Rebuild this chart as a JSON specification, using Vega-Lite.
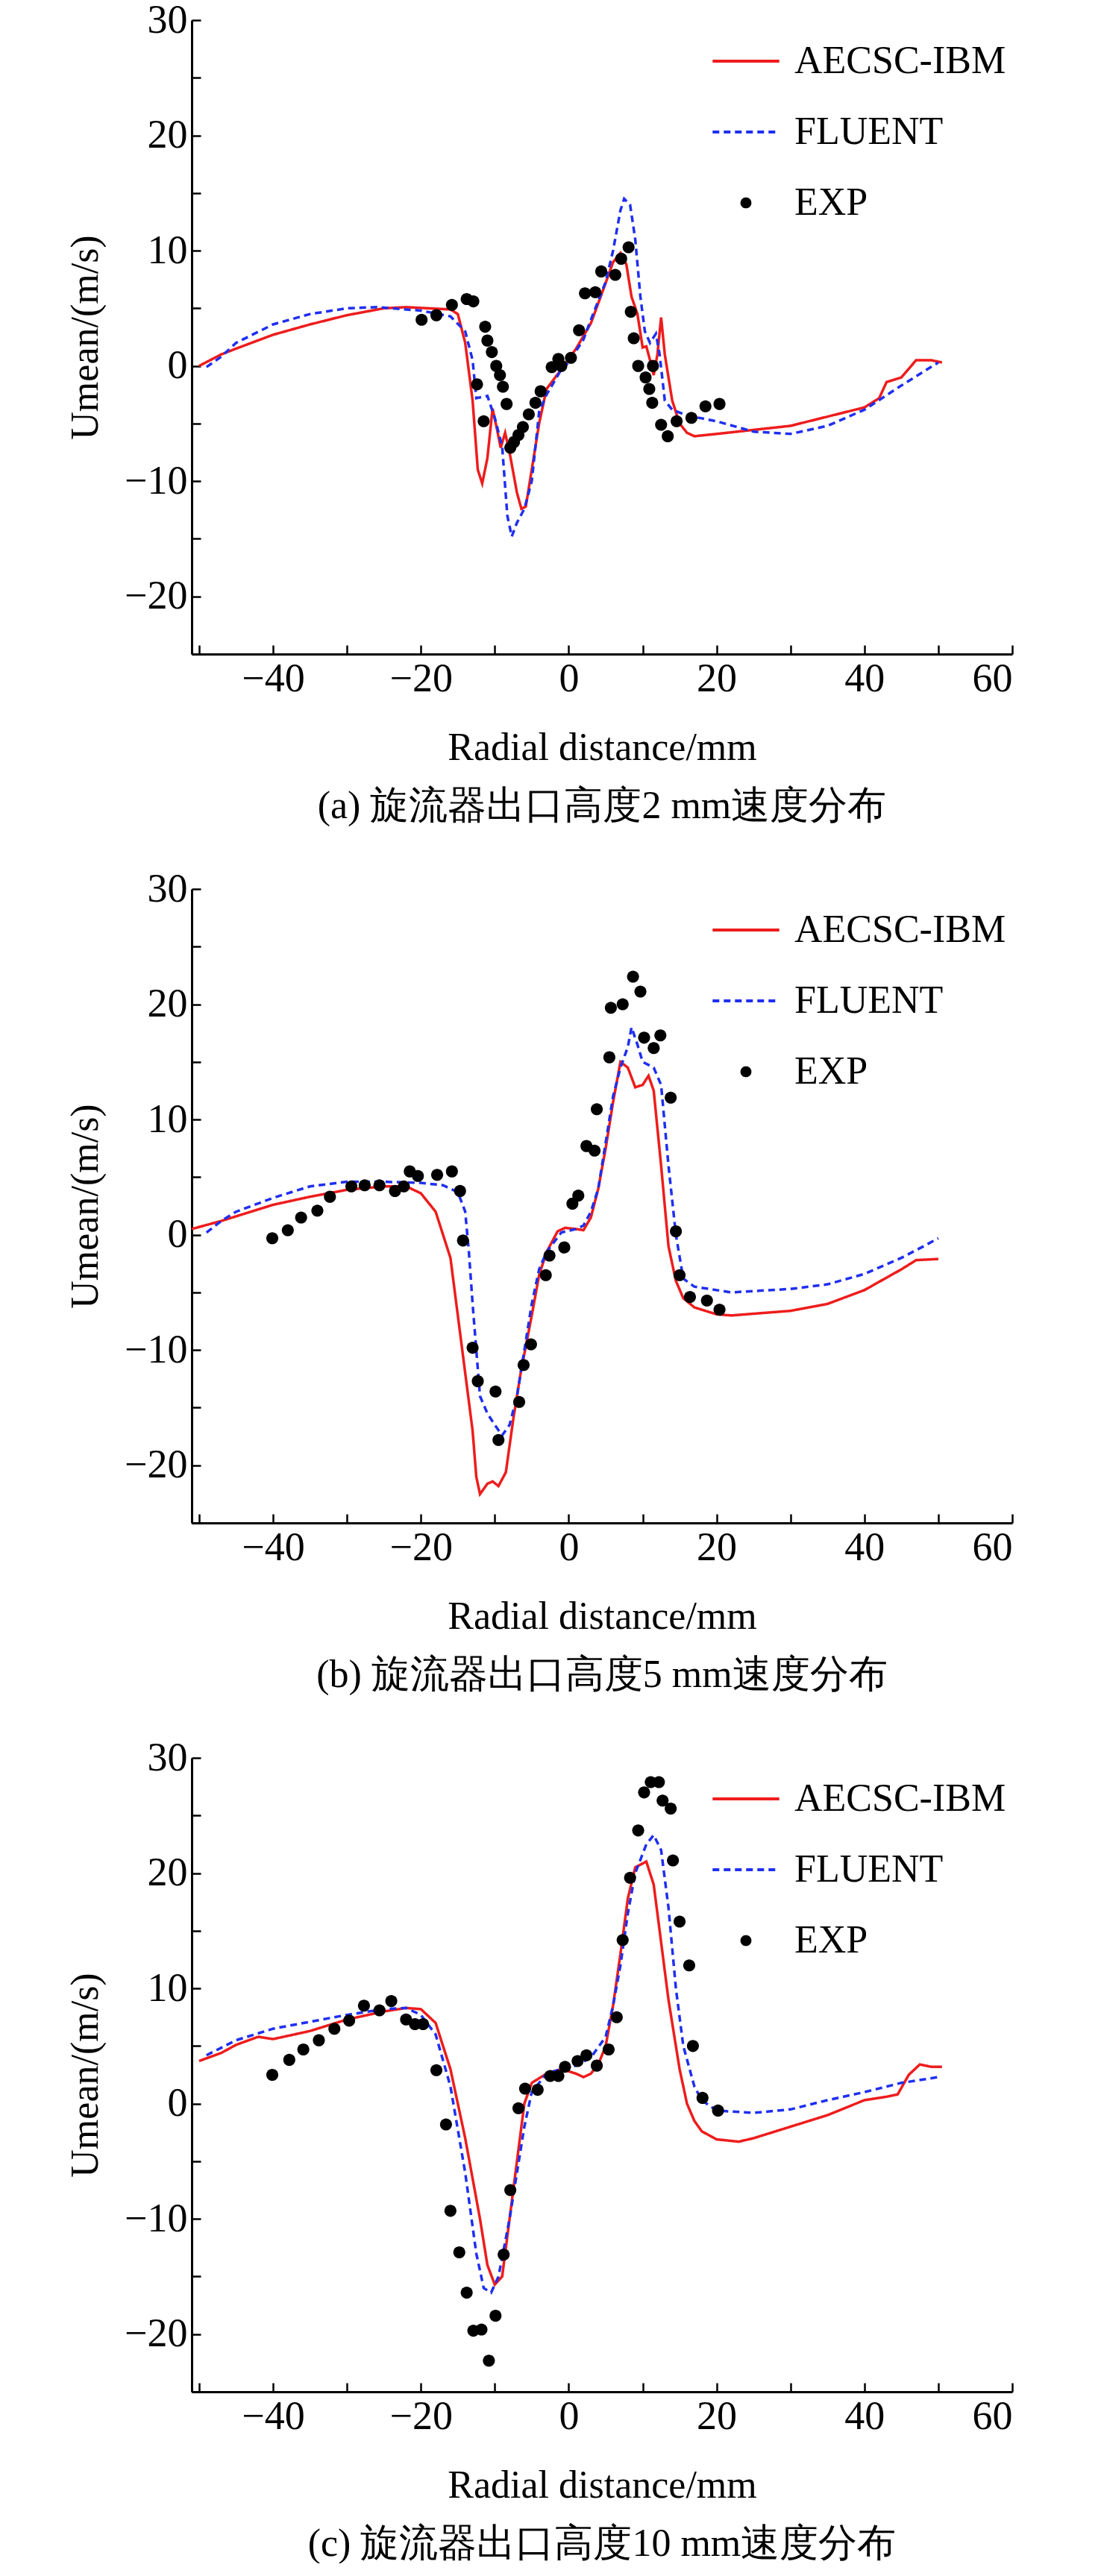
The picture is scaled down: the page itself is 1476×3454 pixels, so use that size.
{
"$schema":"https://vega.github.io/schema/vega-lite/v6.json",
"padding":{"left":88,"top":0,"right":5,"bottom":0},
"background":"white",
"config":{"font":"Liberation Serif","view":{"stroke":null},
"axis":{"labelFont":"Liberation Serif","titleFont":"Liberation Serif","labelFontSize":54,"titleFontSize":52,"titleFontWeight":"normal","labelColor":"black","titleColor":"black","domainColor":"black","tickColor":"black","domainWidth":3,"tickWidth":2.5,"tickSize":-12,"grid":false,"labelPadding":18},
"legend":{"labelFont":"Liberation Serif","labelFontSize":52,"labelColor":"black","labelLimit":0,"symbolSize":8000,"symbolStrokeWidth":4,"rowPadding":22,"labelOffset":18,"offset":8,"padding":0},
"title":{"font":"Liberation Serif","fontSize":52,"fontWeight":"normal","color":"black","orient":"bottom","offset":28},
"concat":{"spacing":58}},
"datasets":{
"a":[
{"s":"AECSC-IBM","x":-50,"y":0},{"s":"AECSC-IBM","x":-47,"y":1},{"s":"AECSC-IBM","x":-45,"y":1.5},{"s":"AECSC-IBM","x":-40,"y":2.7},{"s":"AECSC-IBM","x":-35,"y":3.6},{"s":"AECSC-IBM","x":-30,"y":4.4},{"s":"AECSC-IBM","x":-25,"y":5},{"s":"AECSC-IBM","x":-22,"y":5.1},{"s":"AECSC-IBM","x":-16,"y":4.9},{"s":"AECSC-IBM","x":-15,"y":4.5},{"s":"AECSC-IBM","x":-14,"y":2},{"s":"AECSC-IBM","x":-13,"y":-3},{"s":"AECSC-IBM","x":-12.3,"y":-9},{"s":"AECSC-IBM","x":-11.7,"y":-10.2},{"s":"AECSC-IBM","x":-11,"y":-8},{"s":"AECSC-IBM","x":-10.3,"y":-3.7},{"s":"AECSC-IBM","x":-9.7,"y":-5.5},{"s":"AECSC-IBM","x":-9.2,"y":-7.1},{"s":"AECSC-IBM","x":-8.6,"y":-5.8},{"s":"AECSC-IBM","x":-8,"y":-7.5},{"s":"AECSC-IBM","x":-7,"y":-11},{"s":"AECSC-IBM","x":-6.4,"y":-12.4},{"s":"AECSC-IBM","x":-5.8,"y":-12.2},{"s":"AECSC-IBM","x":-5,"y":-9},{"s":"AECSC-IBM","x":-4,"y":-5},{"s":"AECSC-IBM","x":-3,"y":-2},{"s":"AECSC-IBM","x":-1,"y":-0.3},{"s":"AECSC-IBM","x":0,"y":0.6},{"s":"AECSC-IBM","x":1,"y":1.5},{"s":"AECSC-IBM","x":3,"y":3.7},{"s":"AECSC-IBM","x":5,"y":7.2},{"s":"AECSC-IBM","x":6,"y":9},{"s":"AECSC-IBM","x":7,"y":9.8},{"s":"AECSC-IBM","x":7.8,"y":8.8},{"s":"AECSC-IBM","x":8.5,"y":6},{"s":"AECSC-IBM","x":9.3,"y":4.5},{"s":"AECSC-IBM","x":10,"y":1.6},{"s":"AECSC-IBM","x":10.5,"y":1.7},{"s":"AECSC-IBM","x":11,"y":0.5},{"s":"AECSC-IBM","x":11.5,"y":-0.8},{"s":"AECSC-IBM","x":12,"y":1},{"s":"AECSC-IBM","x":12.5,"y":4.2},{"s":"AECSC-IBM","x":13,"y":1},{"s":"AECSC-IBM","x":14,"y":-3},{"s":"AECSC-IBM","x":15,"y":-5},{"s":"AECSC-IBM","x":16,"y":-5.8},{"s":"AECSC-IBM","x":17,"y":-6.1},{"s":"AECSC-IBM","x":20,"y":-5.9},{"s":"AECSC-IBM","x":30,"y":-5.2},{"s":"AECSC-IBM","x":40,"y":-3.6},{"s":"AECSC-IBM","x":42,"y":-2.8},{"s":"AECSC-IBM","x":43,"y":-1.4},{"s":"AECSC-IBM","x":45,"y":-1},{"s":"AECSC-IBM","x":47,"y":0.5},{"s":"AECSC-IBM","x":49,"y":0.5},{"s":"AECSC-IBM","x":50.5,"y":0.3},
{"s":"FLUENT","x":-49,"y":-0.1},{"s":"FLUENT","x":-47,"y":0.8},{"s":"FLUENT","x":-45,"y":2},{"s":"FLUENT","x":-40,"y":3.6},{"s":"FLUENT","x":-35,"y":4.5},{"s":"FLUENT","x":-30,"y":5},{"s":"FLUENT","x":-26,"y":5.1},{"s":"FLUENT","x":-20,"y":4.8},{"s":"FLUENT","x":-16,"y":4.3},{"s":"FLUENT","x":-14,"y":3},{"s":"FLUENT","x":-13,"y":0.5},{"s":"FLUENT","x":-12.5,"y":-2.8},{"s":"FLUENT","x":-11,"y":-2.6},{"s":"FLUENT","x":-10,"y":-4.5},{"s":"FLUENT","x":-9,"y":-7},{"s":"FLUENT","x":-8.3,"y":-13},{"s":"FLUENT","x":-7.7,"y":-14.8},{"s":"FLUENT","x":-7,"y":-13.6},{"s":"FLUENT","x":-6,"y":-12.4},{"s":"FLUENT","x":-5,"y":-10},{"s":"FLUENT","x":-4,"y":-4},{"s":"FLUENT","x":-3,"y":-2.5},{"s":"FLUENT","x":-1,"y":-0.3},{"s":"FLUENT","x":0,"y":0.3},{"s":"FLUENT","x":2,"y":2.3},{"s":"FLUENT","x":3,"y":4},{"s":"FLUENT","x":5,"y":7.3},{"s":"FLUENT","x":6,"y":10},{"s":"FLUENT","x":7,"y":13.5},{"s":"FLUENT","x":7.5,"y":14.5},{"s":"FLUENT","x":8.3,"y":14},{"s":"FLUENT","x":9,"y":11},{"s":"FLUENT","x":9.7,"y":6},{"s":"FLUENT","x":10.3,"y":3},{"s":"FLUENT","x":11,"y":2},{"s":"FLUENT","x":11.8,"y":2.8},{"s":"FLUENT","x":12.3,"y":1},{"s":"FLUENT","x":13,"y":-3},{"s":"FLUENT","x":14,"y":-3.8},{"s":"FLUENT","x":16,"y":-4.3},{"s":"FLUENT","x":20,"y":-4.8},{"s":"FLUENT","x":25,"y":-5.7},{"s":"FLUENT","x":30,"y":-5.9},{"s":"FLUENT","x":35,"y":-5.2},{"s":"FLUENT","x":40,"y":-3.8},{"s":"FLUENT","x":45,"y":-1.7},{"s":"FLUENT","x":50,"y":0.3},
{"s":"EXP","x":-19.9,"y":4.0},{"s":"EXP","x":-17.9,"y":4.4},{"s":"EXP","x":-15.8,"y":5.3},{"s":"EXP","x":-13.8,"y":5.8},{"s":"EXP","x":-12.9,"y":5.6},{"s":"EXP","x":-12.4,"y":-1.6},{"s":"EXP","x":-11.5,"y":-4.8},{"s":"EXP","x":-11.3,"y":3.4},{"s":"EXP","x":-11,"y":2.2},{"s":"EXP","x":-10.4,"y":1.2},{"s":"EXP","x":-9.8,"y":0},{"s":"EXP","x":-9.3,"y":-0.8},{"s":"EXP","x":-8.9,"y":-1.8},{"s":"EXP","x":-8.4,"y":-3.3},{"s":"EXP","x":-7.9,"y":-7.1},{"s":"EXP","x":-7.4,"y":-6.6},{"s":"EXP","x":-6.8,"y":-6},{"s":"EXP","x":-6.2,"y":-5.3},{"s":"EXP","x":-5.4,"y":-4.2},{"s":"EXP","x":-4.5,"y":-3.2},{"s":"EXP","x":-3.8,"y":-2.2},{"s":"EXP","x":-2.3,"y":-0.1},{"s":"EXP","x":-1.4,"y":0.6},{"s":"EXP","x":-1,"y":0},{"s":"EXP","x":0.3,"y":0.7},{"s":"EXP","x":1.4,"y":3.1},{"s":"EXP","x":2.2,"y":6.3},{"s":"EXP","x":3.6,"y":6.4},{"s":"EXP","x":4.4,"y":8.2},{"s":"EXP","x":6.3,"y":7.9},{"s":"EXP","x":7.1,"y":9.3},{"s":"EXP","x":8.1,"y":10.3},{"s":"EXP","x":8.4,"y":4.7},{"s":"EXP","x":8.8,"y":2.4},{"s":"EXP","x":9.4,"y":0},{"s":"EXP","x":10.4,"y":-1},{"s":"EXP","x":10.9,"y":-2},{"s":"EXP","x":11.3,"y":-3.2},{"s":"EXP","x":11.4,"y":0},{"s":"EXP","x":12.5,"y":-5.1},{"s":"EXP","x":13.4,"y":-6.1},{"s":"EXP","x":14.6,"y":-4.8},{"s":"EXP","x":16.6,"y":-4.5},{"s":"EXP","x":18.5,"y":-3.5},{"s":"EXP","x":20.4,"y":-3.3}],
"b":[
{"s":"AECSC-IBM","x":-51,"y":0.5},{"s":"AECSC-IBM","x":-47,"y":1.2},{"s":"AECSC-IBM","x":-45,"y":1.6},{"s":"AECSC-IBM","x":-40,"y":2.6},{"s":"AECSC-IBM","x":-35,"y":3.3},{"s":"AECSC-IBM","x":-30,"y":3.9},{"s":"AECSC-IBM","x":-25,"y":4.2},{"s":"AECSC-IBM","x":-22,"y":4.2},{"s":"AECSC-IBM","x":-20,"y":3.6},{"s":"AECSC-IBM","x":-18,"y":2},{"s":"AECSC-IBM","x":-16,"y":-2},{"s":"AECSC-IBM","x":-15,"y":-7},{"s":"AECSC-IBM","x":-14,"y":-12},{"s":"AECSC-IBM","x":-13,"y":-17},{"s":"AECSC-IBM","x":-12.5,"y":-21},{"s":"AECSC-IBM","x":-12,"y":-22.5},{"s":"AECSC-IBM","x":-11,"y":-21.6},{"s":"AECSC-IBM","x":-10.3,"y":-21.4},{"s":"AECSC-IBM","x":-9.5,"y":-21.8},{"s":"AECSC-IBM","x":-8.5,"y":-20.6},{"s":"AECSC-IBM","x":-7.5,"y":-16},{"s":"AECSC-IBM","x":-6.5,"y":-12},{"s":"AECSC-IBM","x":-5,"y":-7},{"s":"AECSC-IBM","x":-4,"y":-3.5},{"s":"AECSC-IBM","x":-3,"y":-1.5},{"s":"AECSC-IBM","x":-1.5,"y":0.3},{"s":"AECSC-IBM","x":-0.5,"y":0.6},{"s":"AECSC-IBM","x":1,"y":0.5},{"s":"AECSC-IBM","x":2,"y":0.4},{"s":"AECSC-IBM","x":3,"y":1.5},{"s":"AECSC-IBM","x":4,"y":4},{"s":"AECSC-IBM","x":5,"y":7.5},{"s":"AECSC-IBM","x":6,"y":11.5},{"s":"AECSC-IBM","x":7,"y":15},{"s":"AECSC-IBM","x":8,"y":14.5},{"s":"AECSC-IBM","x":9,"y":12.8},{"s":"AECSC-IBM","x":10,"y":13},{"s":"AECSC-IBM","x":10.8,"y":13.8},{"s":"AECSC-IBM","x":11.5,"y":12.5},{"s":"AECSC-IBM","x":12.5,"y":6},{"s":"AECSC-IBM","x":13.5,"y":-1},{"s":"AECSC-IBM","x":14.5,"y":-4},{"s":"AECSC-IBM","x":15.5,"y":-5.5},{"s":"AECSC-IBM","x":17,"y":-6.3},{"s":"AECSC-IBM","x":20,"y":-6.9},{"s":"AECSC-IBM","x":22,"y":-7},{"s":"AECSC-IBM","x":30,"y":-6.6},{"s":"AECSC-IBM","x":35,"y":-6},{"s":"AECSC-IBM","x":40,"y":-4.8},{"s":"AECSC-IBM","x":45,"y":-3},{"s":"AECSC-IBM","x":47,"y":-2.2},{"s":"AECSC-IBM","x":50,"y":-2.1},
{"s":"FLUENT","x":-49,"y":0.2},{"s":"FLUENT","x":-47,"y":1.2},{"s":"FLUENT","x":-45,"y":2},{"s":"FLUENT","x":-40,"y":3.2},{"s":"FLUENT","x":-35,"y":4.2},{"s":"FLUENT","x":-30,"y":4.6},{"s":"FLUENT","x":-25,"y":4.6},{"s":"FLUENT","x":-20,"y":4.5},{"s":"FLUENT","x":-17,"y":4.3},{"s":"FLUENT","x":-15,"y":3.7},{"s":"FLUENT","x":-14,"y":2},{"s":"FLUENT","x":-13.5,"y":-1.5},{"s":"FLUENT","x":-13,"y":-6},{"s":"FLUENT","x":-12.5,"y":-10},{"s":"FLUENT","x":-12,"y":-14},{"s":"FLUENT","x":-11,"y":-15.5},{"s":"FLUENT","x":-10,"y":-16.5},{"s":"FLUENT","x":-9,"y":-17.4},{"s":"FLUENT","x":-8,"y":-16.5},{"s":"FLUENT","x":-7,"y":-14},{"s":"FLUENT","x":-6,"y":-10},{"s":"FLUENT","x":-5,"y":-6},{"s":"FLUENT","x":-4,"y":-3},{"s":"FLUENT","x":-3,"y":-1.5},{"s":"FLUENT","x":-1,"y":0.2},{"s":"FLUENT","x":1,"y":0.5},{"s":"FLUENT","x":2,"y":0.8},{"s":"FLUENT","x":3,"y":2},{"s":"FLUENT","x":4,"y":4},{"s":"FLUENT","x":5,"y":8},{"s":"FLUENT","x":6,"y":12},{"s":"FLUENT","x":7,"y":14.5},{"s":"FLUENT","x":8,"y":16.3},{"s":"FLUENT","x":8.5,"y":18},{"s":"FLUENT","x":9.3,"y":16.5},{"s":"FLUENT","x":10,"y":15},{"s":"FLUENT","x":11.5,"y":14.5},{"s":"FLUENT","x":12.5,"y":13},{"s":"FLUENT","x":13.5,"y":6},{"s":"FLUENT","x":14.5,"y":0},{"s":"FLUENT","x":15.5,"y":-3.8},{"s":"FLUENT","x":17,"y":-4.5},{"s":"FLUENT","x":22,"y":-5},{"s":"FLUENT","x":30,"y":-4.7},{"s":"FLUENT","x":35,"y":-4.3},{"s":"FLUENT","x":40,"y":-3.4},{"s":"FLUENT","x":45,"y":-2},{"s":"FLUENT","x":48,"y":-1},{"s":"FLUENT","x":50,"y":-0.3},
{"s":"EXP","x":-40.1,"y":-0.3},{"s":"EXP","x":-38,"y":0.4},{"s":"EXP","x":-36.2,"y":1.5},{"s":"EXP","x":-34,"y":2.1},{"s":"EXP","x":-32.3,"y":3.3},{"s":"EXP","x":-29.4,"y":4.2},{"s":"EXP","x":-27.6,"y":4.3},{"s":"EXP","x":-25.6,"y":4.3},{"s":"EXP","x":-23.5,"y":3.8},{"s":"EXP","x":-22.3,"y":4.2},{"s":"EXP","x":-21.5,"y":5.5},{"s":"EXP","x":-20.4,"y":5.1},{"s":"EXP","x":-17.8,"y":5.2},{"s":"EXP","x":-15.8,"y":5.5},{"s":"EXP","x":-14.7,"y":3.8},{"s":"EXP","x":-14.3,"y":-0.5},{"s":"EXP","x":-13,"y":-9.8},{"s":"EXP","x":-12.3,"y":-12.7},{"s":"EXP","x":-9.9,"y":-13.6},{"s":"EXP","x":-9.5,"y":-17.8},{"s":"EXP","x":-6.7,"y":-14.5},{"s":"EXP","x":-6.1,"y":-11.3},{"s":"EXP","x":-5.1,"y":-9.5},{"s":"EXP","x":-3.1,"y":-3.5},{"s":"EXP","x":-2.6,"y":-1.8},{"s":"EXP","x":-0.6,"y":-1.1},{"s":"EXP","x":0.5,"y":2.7},{"s":"EXP","x":1.3,"y":3.4},{"s":"EXP","x":2.4,"y":7.7},{"s":"EXP","x":3.5,"y":7.3},{"s":"EXP","x":3.8,"y":10.9},{"s":"EXP","x":5.5,"y":15.4},{"s":"EXP","x":5.7,"y":19.7},{"s":"EXP","x":7.3,"y":20},{"s":"EXP","x":8.7,"y":22.4},{"s":"EXP","x":9.7,"y":21.1},{"s":"EXP","x":10.2,"y":17.1},{"s":"EXP","x":11.5,"y":16.2},{"s":"EXP","x":12.4,"y":17.3},{"s":"EXP","x":13.8,"y":11.9},{"s":"EXP","x":14.5,"y":0.3},{"s":"EXP","x":15,"y":-3.5},{"s":"EXP","x":16.4,"y":-5.4},{"s":"EXP","x":18.7,"y":-5.7},{"s":"EXP","x":20.4,"y":-6.5}],
"c":[
{"s":"AECSC-IBM","x":-50,"y":3.7},{"s":"AECSC-IBM","x":-47,"y":4.4},{"s":"AECSC-IBM","x":-45,"y":5.1},{"s":"AECSC-IBM","x":-42,"y":5.8},{"s":"AECSC-IBM","x":-40,"y":5.6},{"s":"AECSC-IBM","x":-35,"y":6.3},{"s":"AECSC-IBM","x":-30,"y":7.3},{"s":"AECSC-IBM","x":-25,"y":8},{"s":"AECSC-IBM","x":-22,"y":8.3},{"s":"AECSC-IBM","x":-20,"y":8.2},{"s":"AECSC-IBM","x":-18,"y":7},{"s":"AECSC-IBM","x":-16,"y":3},{"s":"AECSC-IBM","x":-14,"y":-3},{"s":"AECSC-IBM","x":-12,"y":-10},{"s":"AECSC-IBM","x":-11,"y":-14},{"s":"AECSC-IBM","x":-10,"y":-15.7},{"s":"AECSC-IBM","x":-9,"y":-15},{"s":"AECSC-IBM","x":-8,"y":-10},{"s":"AECSC-IBM","x":-7,"y":-5},{"s":"AECSC-IBM","x":-6,"y":0},{"s":"AECSC-IBM","x":-5,"y":1.8},{"s":"AECSC-IBM","x":-3,"y":2.6},{"s":"AECSC-IBM","x":-1,"y":3},{"s":"AECSC-IBM","x":1,"y":2.6},{"s":"AECSC-IBM","x":2,"y":2.3},{"s":"AECSC-IBM","x":3,"y":2.6},{"s":"AECSC-IBM","x":4,"y":3.4},{"s":"AECSC-IBM","x":5,"y":5},{"s":"AECSC-IBM","x":6,"y":8.5},{"s":"AECSC-IBM","x":7,"y":13},{"s":"AECSC-IBM","x":8,"y":17.8},{"s":"AECSC-IBM","x":9,"y":20.5},{"s":"AECSC-IBM","x":10.5,"y":21},{"s":"AECSC-IBM","x":11.5,"y":19},{"s":"AECSC-IBM","x":12.5,"y":14},{"s":"AECSC-IBM","x":13.5,"y":9},{"s":"AECSC-IBM","x":15,"y":3},{"s":"AECSC-IBM","x":16,"y":0},{"s":"AECSC-IBM","x":17,"y":-1.5},{"s":"AECSC-IBM","x":18,"y":-2.4},{"s":"AECSC-IBM","x":20,"y":-3.1},{"s":"AECSC-IBM","x":23,"y":-3.3},{"s":"AECSC-IBM","x":25,"y":-3},{"s":"AECSC-IBM","x":30,"y":-2},{"s":"AECSC-IBM","x":35,"y":-1},{"s":"AECSC-IBM","x":40,"y":0.3},{"s":"AECSC-IBM","x":43,"y":0.6},{"s":"AECSC-IBM","x":44.5,"y":0.8},{"s":"AECSC-IBM","x":46,"y":2.5},{"s":"AECSC-IBM","x":47.5,"y":3.4},{"s":"AECSC-IBM","x":49,"y":3.2},{"s":"AECSC-IBM","x":50.5,"y":3.2},
{"s":"FLUENT","x":-49,"y":4.2},{"s":"FLUENT","x":-45,"y":5.5},{"s":"FLUENT","x":-40,"y":6.5},{"s":"FLUENT","x":-35,"y":7.1},{"s":"FLUENT","x":-30,"y":7.7},{"s":"FLUENT","x":-25,"y":8.2},{"s":"FLUENT","x":-22,"y":8.3},{"s":"FLUENT","x":-20,"y":7.7},{"s":"FLUENT","x":-18,"y":6},{"s":"FLUENT","x":-16,"y":1.5},{"s":"FLUENT","x":-14,"y":-6},{"s":"FLUENT","x":-12.5,"y":-13},{"s":"FLUENT","x":-11.5,"y":-16},{"s":"FLUENT","x":-10.5,"y":-16.4},{"s":"FLUENT","x":-9.5,"y":-15},{"s":"FLUENT","x":-8,"y":-10},{"s":"FLUENT","x":-6,"y":-2},{"s":"FLUENT","x":-5,"y":1},{"s":"FLUENT","x":-3,"y":2.6},{"s":"FLUENT","x":-1,"y":3},{"s":"FLUENT","x":1,"y":3.3},{"s":"FLUENT","x":3,"y":4},{"s":"FLUENT","x":5,"y":5.8},{"s":"FLUENT","x":6,"y":8.5},{"s":"FLUENT","x":7,"y":12},{"s":"FLUENT","x":8,"y":16.5},{"s":"FLUENT","x":9,"y":20},{"s":"FLUENT","x":10.5,"y":22.5},{"s":"FLUENT","x":11.5,"y":23.3},{"s":"FLUENT","x":12.5,"y":22},{"s":"FLUENT","x":13.5,"y":17},{"s":"FLUENT","x":14.5,"y":10},{"s":"FLUENT","x":15.5,"y":5},{"s":"FLUENT","x":17,"y":1.5},{"s":"FLUENT","x":18,"y":0.3},{"s":"FLUENT","x":20,"y":-0.6},{"s":"FLUENT","x":25,"y":-0.8},{"s":"FLUENT","x":30,"y":-0.5},{"s":"FLUENT","x":35,"y":0.3},{"s":"FLUENT","x":40,"y":1},{"s":"FLUENT","x":45,"y":1.8},{"s":"FLUENT","x":50,"y":2.3},
{"s":"EXP","x":-40.1,"y":2.5},{"s":"EXP","x":-37.8,"y":3.8},{"s":"EXP","x":-35.9,"y":4.7},{"s":"EXP","x":-33.8,"y":5.5},{"s":"EXP","x":-31.7,"y":6.5},{"s":"EXP","x":-29.7,"y":7.2},{"s":"EXP","x":-27.7,"y":8.5},{"s":"EXP","x":-25.6,"y":8.1},{"s":"EXP","x":-24,"y":8.9},{"s":"EXP","x":-22,"y":7.3},{"s":"EXP","x":-20.8,"y":6.9},{"s":"EXP","x":-19.7,"y":6.9},{"s":"EXP","x":-17.9,"y":2.9},{"s":"EXP","x":-16.6,"y":-1.8},{"s":"EXP","x":-16,"y":-9.3},{"s":"EXP","x":-14.8,"y":-12.9},{"s":"EXP","x":-13.8,"y":-16.4},{"s":"EXP","x":-12.9,"y":-19.7},{"s":"EXP","x":-11.8,"y":-19.6},{"s":"EXP","x":-10.8,"y":-22.3},{"s":"EXP","x":-9.9,"y":-18.4},{"s":"EXP","x":-8.8,"y":-13.1},{"s":"EXP","x":-7.9,"y":-7.5},{"s":"EXP","x":-6.8,"y":-0.4},{"s":"EXP","x":-5.9,"y":1.3},{"s":"EXP","x":-4.2,"y":1.2},{"s":"EXP","x":-2.5,"y":2.4},{"s":"EXP","x":-1.4,"y":2.4},{"s":"EXP","x":-0.5,"y":3.2},{"s":"EXP","x":1.2,"y":3.7},{"s":"EXP","x":2.4,"y":4.2},{"s":"EXP","x":3.8,"y":3.3},{"s":"EXP","x":5.4,"y":4.7},{"s":"EXP","x":6.5,"y":7.5},{"s":"EXP","x":7.3,"y":14.2},{"s":"EXP","x":8.3,"y":19.6},{"s":"EXP","x":9.4,"y":23.7},{"s":"EXP","x":10.2,"y":27},{"s":"EXP","x":11.1,"y":27.9},{"s":"EXP","x":12.2,"y":27.9},{"s":"EXP","x":12.7,"y":26.3},{"s":"EXP","x":13.8,"y":25.6},{"s":"EXP","x":14.1,"y":21.1},{"s":"EXP","x":15,"y":15.8},{"s":"EXP","x":16.3,"y":12},{"s":"EXP","x":16.8,"y":5},{"s":"EXP","x":18.1,"y":0.5},{"s":"EXP","x":20.2,"y":-0.6}]},
"resolve":{"legend":{"color":"independent","strokeDash":"independent","shape":"independent"}},
"vconcat":[
{"title":"(a) 旋流器出口高度2 mm速度分布","width":1100,"height":850,"data":{"name":"a"},
"encoding":{"x":{"field":"x","type":"quantitative","scale":{"domain":[-51,60],"nice":false,"zero":false},"axis":{"title":"Radial distance/mm","values":[-50,-40,-30,-20,-10,0,10,20,30,40,50,60],"labelExpr":"datum.value % 20 == 0 ? replace(datum.label,'-','−') : ''","titlePadding":40}},
"y":{"field":"y","type":"quantitative","scale":{"domain":[-25,30],"nice":false},"axis":{"title":"Umean/(m/s)","values":[-25,-20,-15,-10,-5,0,5,10,15,20,25,30],"labelExpr":"datum.value % 10 == 0 ? replace(datum.label,'-','−') : ''","titlePadding":25}},
"color":{"field":"s","type":"nominal","sort":["AECSC-IBM","FLUENT","EXP"],"scale":{"domain":["AECSC-IBM","FLUENT","EXP"],"range":["#ee1c1c","#1f2ff0","black"]},"legend":{"title":null,"orient":"top-right"}}},
"layer":[
{"transform":[{"filter":"datum.s != 'EXP'"}],"mark":{"type":"line","strokeWidth":3.5},"encoding":{"strokeDash":{"field":"s","type":"nominal","scale":{"domain":["AECSC-IBM","FLUENT","EXP"],"range":[[1,0],[9,6],[1,0]]},"legend":{"title":null,"orient":"top-right"}}}},
{"transform":[{"filter":"datum.s == 'EXP'"}],"mark":{"type":"point","filled":true,"opacity":1,"size":18000},"encoding":{"shape":{"field":"s","type":"nominal","scale":{"domain":["AECSC-IBM","FLUENT","EXP"],"range":["stroke","stroke","M -0.12 0 A 0.12 0.12 0 1 0 0.12 0 A 0.12 0.12 0 1 0 -0.12 0 Z"]},"legend":{"title":null,"orient":"top-right"}}}}]},
{"title":"(b) 旋流器出口高度5 mm速度分布","width":1100,"height":850,"data":{"name":"b"},
"encoding":{"x":{"field":"x","type":"quantitative","scale":{"domain":[-51,60],"nice":false,"zero":false},"axis":{"title":"Radial distance/mm","values":[-50,-40,-30,-20,-10,0,10,20,30,40,50,60],"labelExpr":"datum.value % 20 == 0 ? replace(datum.label,'-','−') : ''","titlePadding":40}},
"y":{"field":"y","type":"quantitative","scale":{"domain":[-25,30],"nice":false},"axis":{"title":"Umean/(m/s)","values":[-25,-20,-15,-10,-5,0,5,10,15,20,25,30],"labelExpr":"datum.value % 10 == 0 ? replace(datum.label,'-','−') : ''","titlePadding":25}},
"color":{"field":"s","type":"nominal","sort":["AECSC-IBM","FLUENT","EXP"],"scale":{"domain":["AECSC-IBM","FLUENT","EXP"],"range":["#ee1c1c","#1f2ff0","black"]},"legend":{"title":null,"orient":"top-right"}}},
"layer":[
{"transform":[{"filter":"datum.s != 'EXP'"}],"mark":{"type":"line","strokeWidth":3.5},"encoding":{"strokeDash":{"field":"s","type":"nominal","scale":{"domain":["AECSC-IBM","FLUENT","EXP"],"range":[[1,0],[9,6],[1,0]]},"legend":{"title":null,"orient":"top-right"}}}},
{"transform":[{"filter":"datum.s == 'EXP'"}],"mark":{"type":"point","filled":true,"opacity":1,"size":18000},"encoding":{"shape":{"field":"s","type":"nominal","scale":{"domain":["AECSC-IBM","FLUENT","EXP"],"range":["stroke","stroke","M -0.12 0 A 0.12 0.12 0 1 0 0.12 0 A 0.12 0.12 0 1 0 -0.12 0 Z"]},"legend":{"title":null,"orient":"top-right"}}}}]},
{"title":"(c) 旋流器出口高度10 mm速度分布","width":1100,"height":850,"data":{"name":"c"},
"encoding":{"x":{"field":"x","type":"quantitative","scale":{"domain":[-51,60],"nice":false,"zero":false},"axis":{"title":"Radial distance/mm","values":[-50,-40,-30,-20,-10,0,10,20,30,40,50,60],"labelExpr":"datum.value % 20 == 0 ? replace(datum.label,'-','−') : ''","titlePadding":40}},
"y":{"field":"y","type":"quantitative","scale":{"domain":[-25,30],"nice":false},"axis":{"title":"Umean/(m/s)","values":[-25,-20,-15,-10,-5,0,5,10,15,20,25,30],"labelExpr":"datum.value % 10 == 0 ? replace(datum.label,'-','−') : ''","titlePadding":25}},
"color":{"field":"s","type":"nominal","sort":["AECSC-IBM","FLUENT","EXP"],"scale":{"domain":["AECSC-IBM","FLUENT","EXP"],"range":["#ee1c1c","#1f2ff0","black"]},"legend":{"title":null,"orient":"top-right"}}},
"layer":[
{"transform":[{"filter":"datum.s != 'EXP'"}],"mark":{"type":"line","strokeWidth":3.5},"encoding":{"strokeDash":{"field":"s","type":"nominal","scale":{"domain":["AECSC-IBM","FLUENT","EXP"],"range":[[1,0],[9,6],[1,0]]},"legend":{"title":null,"orient":"top-right"}}}},
{"transform":[{"filter":"datum.s == 'EXP'"}],"mark":{"type":"point","filled":true,"opacity":1,"size":18000},"encoding":{"shape":{"field":"s","type":"nominal","scale":{"domain":["AECSC-IBM","FLUENT","EXP"],"range":["stroke","stroke","M -0.12 0 A 0.12 0.12 0 1 0 0.12 0 A 0.12 0.12 0 1 0 -0.12 0 Z"]},"legend":{"title":null,"orient":"top-right"}}}}]}
]}
